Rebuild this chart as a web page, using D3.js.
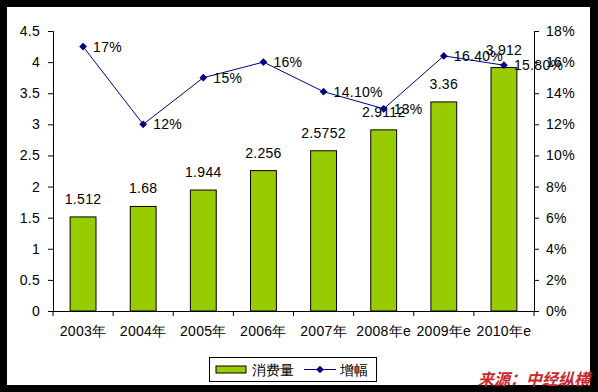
<!DOCTYPE html>
<html>
<head>
<meta charset="utf-8">
<script src="https://cdn.jsdelivr.net/npm/d3@7"></script>
<style>
  body { margin: 0; background: #000; }
  svg text { font-family: Arial, "Liberation Sans", sans-serif; }
</style>
</head>
<body>
<svg width="598" height="392"></svg>
<script>
const years = ["2003年", "2004年", "2005年", "2006年", "2007年", "2008年e", "2009年e", "2010年e"];
const consumption = [1.512, 1.68, 1.944, 2.256, 2.5752, 2.9112, 3.36, 3.912];
const growth = [17, 12, 15, 16, 14.1, 13, 16.4, 15.8];
const growthLabels = ["17%", "12%", "15%", "16%", "14.10%", "13%", "16.40%", "15.80%"];
const leftTicks = [0, 0.5, 1, 1.5, 2, 2.5, 3, 3.5, 4, 4.5];
const rightTicks = [0, 2, 4, 6, 8, 10, 12, 14, 16, 18];

const svg = d3.select("svg");

// white panel inside the black frame
svg.append("rect")
  .attr("x", 7).attr("y", 7)
  .attr("width", 583).attr("height", 378)
  .attr("fill", "#fff");

const plot = { left: 53, right: 534, top: 31, bottom: 311 };

const x = d3.scaleBand().domain(years).range([plot.left, plot.right]);
const yL = d3.scaleLinear().domain([0, 4.5]).range([plot.bottom, plot.top]);
const yR = d3.scaleLinear().domain([0, 18]).range([plot.bottom, plot.top]);

const barW = x.bandwidth() * 0.43;
const fs = 14;

// bars
svg.append("g")
  .selectAll("rect")
  .data(consumption)
  .join("rect")
  .attr("x", (d, i) => x(years[i]) + x.bandwidth() / 2 - barW / 2)
  .attr("y", (d) => yL(d))
  .attr("width", barW)
  .attr("height", (d) => yL(0) - yL(d))
  .attr("fill", "#99cc00")
  .attr("stroke", "#000")
  .attr("stroke-width", 1);

// axes
const leftAxis = svg.append("g")
  .attr("transform", `translate(${plot.left},0)`)
  .call(d3.axisLeft(yL).tickValues(leftTicks).tickSize(5).tickPadding(8)
    .tickFormat((d) => d3.format("")(d)));

const rightAxis = svg.append("g")
  .attr("transform", `translate(${plot.right},0)`)
  .call(d3.axisRight(yR).tickValues(rightTicks).tickSize(5).tickPadding(7)
    .tickFormat((d) => d + "%"));

const bottomAxis = svg.append("g")
  .attr("transform", `translate(0,${plot.bottom})`)
  .call(d3.axisBottom(x).tickSize(0).tickPadding(15));

[leftAxis, rightAxis, bottomAxis].forEach((g) => {
  g.select(".domain").attr("stroke", "#000");
  g.selectAll(".tick line").attr("stroke", "#000");
  g.selectAll("text").attr("font-size", fs).attr("fill", "#000")
    .style("letter-spacing", "0.3px");
});

// category boundary ticks on the x axis
const bounds = d3.range(years.length + 1).map((i) => plot.left + i * x.step());
svg.append("g")
  .selectAll("line")
  .data(bounds)
  .join("line")
  .attr("x1", (d) => d).attr("x2", (d) => d)
  .attr("y1", plot.bottom).attr("y2", plot.bottom + 5)
  .attr("stroke", "#000");

// bar value labels
svg.append("g")
  .selectAll("text")
  .data(consumption)
  .join("text")
  .attr("x", (d, i) => x(years[i]) + x.bandwidth() / 2)
  .attr("y", (d) => yL(d) - 13)
  .attr("text-anchor", "middle")
  .attr("font-size", fs)
  .style("letter-spacing", "0.3px")
  .text((d) => d);

// growth line
const line = d3.line()
  .x((d, i) => x(years[i]) + x.bandwidth() / 2)
  .y((d) => yR(d));

svg.append("path")
  .datum(growth)
  .attr("d", line)
  .attr("fill", "none")
  .attr("stroke", "#000080")
  .attr("stroke-width", 1);

const diamond = d3.symbol().type(d3.symbolSquare).size(30);

svg.append("g")
  .selectAll("path")
  .data(growth)
  .join("path")
  .attr("transform", (d, i) => `translate(${x(years[i]) + x.bandwidth() / 2},${yR(d)}) rotate(45)`)
  .attr("d", diamond)
  .attr("fill", "#000080");

svg.append("g")
  .selectAll("text")
  .data(growth)
  .join("text")
  .attr("x", (d, i) => x(years[i]) + x.bandwidth() / 2 + 10)
  .attr("y", (d) => yR(d) + 5)
  .attr("font-size", fs)
  .style("letter-spacing", "0.3px")
  .text((d, i) => growthLabels[i]);

// legend
const legend = svg.append("g");
legend.append("rect")
  .attr("x", 209.5).attr("y", 357.5)
  .attr("width", 167).attr("height", 24)
  .attr("fill", "#fff").attr("stroke", "#000");
legend.append("rect")
  .attr("x", 216).attr("y", 366)
  .attr("width", 30).attr("height", 7)
  .attr("fill", "#99cc00").attr("stroke", "#000");
legend.append("text")
  .attr("x", 252).attr("y", 375)
  .attr("font-size", fs)
  .text("消费量");
legend.append("line")
  .attr("x1", 304).attr("x2", 336)
  .attr("y1", 369.5).attr("y2", 369.5)
  .attr("stroke", "#000080");
legend.append("path")
  .attr("transform", "translate(320,369.5) rotate(45)")
  .attr("d", diamond)
  .attr("fill", "#000080");
legend.append("text")
  .attr("x", 340).attr("y", 375)
  .attr("font-size", fs)
  .text("增幅");

// source note
svg.append("text")
  .attr("x", 590).attr("y", 385)
  .attr("text-anchor", "end")
  .attr("font-size", 16)
  .attr("font-weight", "bold")
  .attr("font-style", "italic")
  .attr("fill", "#c8282e")
  .style("font-family", "'Noto Sans CJK SC', sans-serif")
  .text("来源：中经纵横");
</script>
</body>
</html>
